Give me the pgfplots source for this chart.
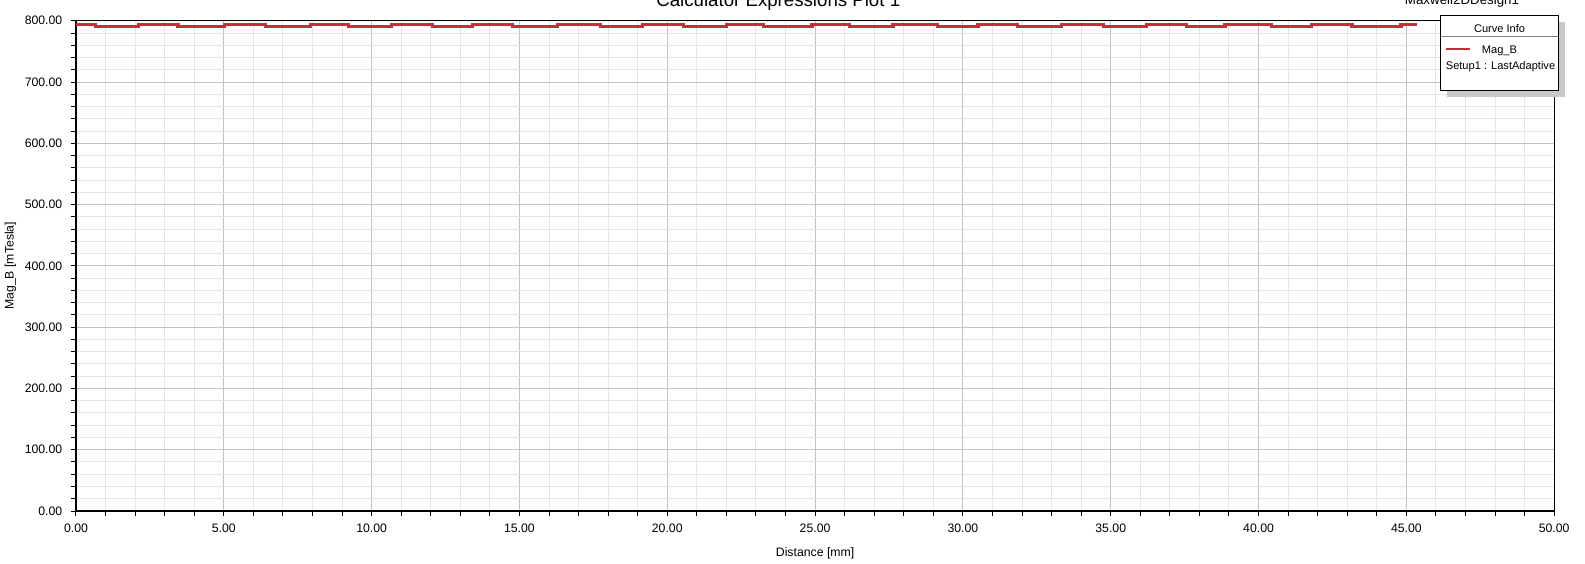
\documentclass[border=0pt]{standalone}
\usepackage{fontspec}
\setmainfont{Liberation Sans}
\usepackage{pgfplots}
\pgfplotsset{compat=1.18}
\definecolor{curve}{RGB}{200,46,58}
\definecolor{majgrid}{RGB}{196,196,196}
\definecolor{mingrid}{RGB}{229,229,229}
\definecolor{shadow}{RGB}{200,200,200}
\begin{document}
\begin{tikzpicture}
\begin{axis}[
 at={(57pt,-383.25pt)}, anchor=south west,
 scale only axis, width=1108.7pt, height=367.7pt,
 xmin=0,xmax=50,ymin=0,ymax=800,
 xtick distance=5, ytick distance=100, minor x tick num=4, minor y tick num=4,
 grid=both,
 major grid style={majgrid, line width=0.75pt},
 minor grid style={mingrid, line width=0.75pt},
 axis line style={black, line width=1pt},
 tick align=outside, tick pos=left,
 major tick length=3.75pt, minor tick length=3.75pt,
 tick style={black, line width=0.75pt},
 scaled ticks=false,
 /pgf/number format/.cd, fixed, fixed zerofill, precision=2, assume math mode=true,
 /pgfplots/.cd,
 ticklabel style={font=\fontsize{9.2}{10}\selectfont},
 xticklabel style={yshift=-2.3pt},
 yticklabel style={xshift=-3pt},
 xlabel={Distance [mm]}, ylabel={Mag\_B [mTesla]},
 label style={font=\fontsize{9.2}{10}\selectfont},
 xlabel style={at={(axis description cs:0.5,-0.0863)}, anchor=center, inner sep=0pt},
 ylabel style={at={(axis description cs:-0.0443,0.5)}, anchor=center, inner sep=0pt},
 clip=false,
 legend style={at={(axis description cs:0.92606,0.9395)}, anchor=west, draw=none, fill=none,
   inner sep=0pt, outer sep=0pt, font=\fontsize{8.3}{10}\selectfont, nodes={inner sep=0pt}},
 legend cell align=left,
 legend image code/.code={\draw[#1, line width=1.6pt] (0pt,1.2pt) -- (18pt,1.2pt); \path (25.8pt,0pt);},
]
\addplot[const plot, curve, line width=2.4pt] coordinates {
(0,794.5) (0.667,791) (2.109,794.5) (3.453,791) (5.010,794.5) (6.422,791)
(7.921,794.5) (9.208,791) (10.664,794.5) (12.052,791) (13.406,794.5) (14.770,791)
(16.293,794.5) (17.729,791) (19.171,794.5) (20.548,791) (21.994,794.5) (23.267,791)
(24.892,794.5) (26.168,791) (27.634,794.5) (29.137,791) (30.511,794.5) (31.852,791)
(33.331,794.5) (34.746,791) (36.208,794.5) (37.562,791) (38.862,794.5) (40.430,791)
(41.794,794.5) (43.158,791) (44.821,794.5) (45.356,794.5)
};
\addlegendentry{Mag\_B}
\fill[shadow] (axis description cs:0.92776,0.99837) rectangle (axis description cs:1.00724,0.84499);
\draw[black, line width=0.75pt, fill=white] (axis description cs:0.92336,1.01163) rectangle (axis description cs:1.00271,0.85866);
\draw[gray, line width=0.6pt] (axis description cs:0.92336,0.96879) -- (axis description cs:1.00271,0.96879);
\node[font=\fontsize{8.3}{10}\selectfont, inner sep=0pt] at (axis description cs:0.96307,0.98450) {Curve Info};
\node[anchor=west, font=\fontsize{8.3}{10}\selectfont, inner sep=0pt] at (axis description cs:0.92654,0.9055) {Setup1 : LastAdaptive};
\end{axis}
\node[anchor=base, font=\fontsize{14}{16}\selectfont, inner sep=0pt] at (583.7pt,-5.25pt) {Calculator Expressions Plot 1};
\node[anchor=base, font=\fontsize{10}{12}\selectfont, inner sep=0pt] at (1096.5pt,-3pt) {Maxwell2DDesign1};
\pgfresetboundingbox
\path[use as bounding box] (0,0) rectangle (1188.75pt,-423pt);
\end{tikzpicture}
\end{document}
